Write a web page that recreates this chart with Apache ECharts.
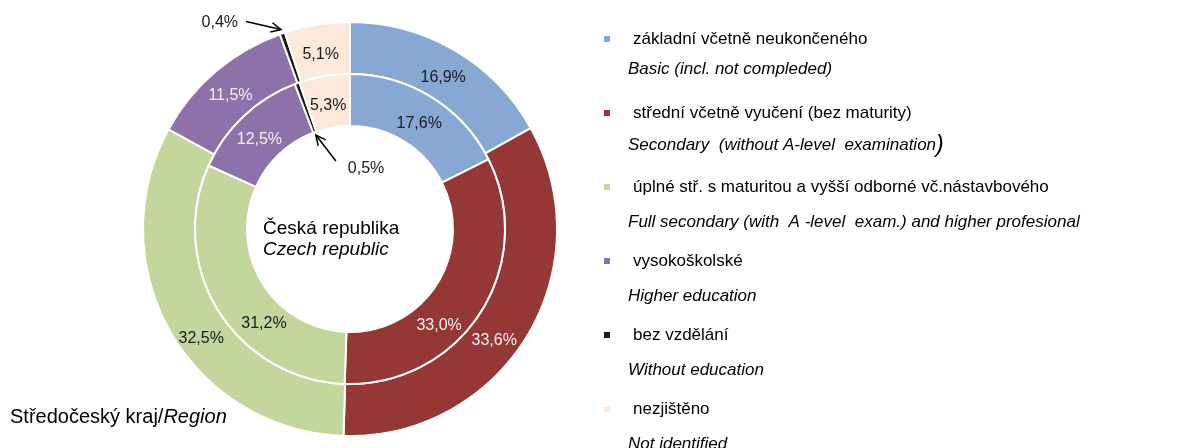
<!DOCTYPE html>
<html>
<head>
<meta charset="utf-8">
<script src="https://cdn.jsdelivr.net/npm/echarts@6/dist/echarts.min.js"></script>
<style>
  html, body { margin: 0; padding: 0; background: #fff; }
  #chart { width: 1200px; height: 448px; }
</style>
</head>
<body>
<div id="chart"></div>
<script>
// kategorie vzdělání (cz / en)
const categoriesCz = [
  'základní včetně neukončeného',
  'střední včetně vyučení (bez maturity)',
  'úplné stř. s maturitou a vyšší odborné vč.nástavbového',
  'vysokoškolské',
  'bez vzdělání',
  'nezjištěno'
];
const categoriesEn = [
  'Basic (incl. not compleded)',
  'Secondary  (without A-level  examination)',
  'Full secondary (with  A -level  exam.) and higher profesional',
  'Higher education',
  'Without education',
  'Not identified'
];
// vnější kruh = Středočeský kraj, vnitřní = Česká republika
const regionValues = [16.9, 33.6, 32.5, 11.5, 0.4, 5.1];
const czechValues = [17.6, 33.0, 31.2, 12.5, 0.5, 5.3];
const palette = ['#86a8d3', '#953735', '#c3d69b', '#8c72a8', '#1a1a1a', '#fde9d9'];

const FONT = '"Liberation Sans", Arial, sans-serif';
const CX = 350, CY = 229;
const OUTER = [155, 207];
const INNER = [103, 155];

const fmtPct = v => v.toFixed(1).replace('.', ',') + '%';

// úhel středu výseče ve stupních od 12 hodin po směru hodin
function midAngle(values, idx) {
  const total = values.reduce((a, b) => a + b, 0);
  let before = 0;
  for (let i = 0; i < idx; i++) before += values[i];
  return (before + values[idx] / 2) / total * 360;
}
function polar(r, deg) {
  const a = deg * Math.PI / 180;
  return [CX + r * Math.sin(a), CY - r * Math.cos(a)];
}
function arrow(tail, tip) {
  const ang = Math.atan2(tip[1] - tail[1], tip[0] - tail[0]);
  const len = 11, spread = 0.45;
  const h1 = [tip[0] - len * Math.cos(ang - spread), tip[1] - len * Math.sin(ang - spread)];
  const h2 = [tip[0] - len * Math.cos(ang + spread), tip[1] - len * Math.sin(ang + spread)];
  return [
    { type: 'polyline', silent: true, shape: { points: [tail, tip] }, style: { stroke: '#000', lineWidth: 1.5, fill: null } },
    { type: 'polyline', silent: true, shape: { points: [h1, tip, h2] }, style: { stroke: '#000', lineWidth: 1.5, fill: null } }
  ];
}

// šipky k malým výsečím (bez vzdělání)
const tinyIdx = 4;
const outerTip = polar(OUTER[1] + 4, midAngle(regionValues, tinyIdx));
const outerTail = [outerTip[0] - 35, outerTip[1] - 8];
const innerTip = polar(INNER[0] - 3, midAngle(czechValues, tinyIdx));
const innerTail = [innerTip[0] + 20, innerTip[1] + 26];

// ruční posun popisků jako v originále
const nudgeOuter = { 1: [-13, 16], 2: [11, 18] };
const nudgeInner = { 1: [-22, 25], 2: [26, 25] };
const nudgeDefault = [0, 7];

function buildData(values) {
  return values.map((v, i) => ({
    name: categoriesCz[i],
    value: v,
    label: { color: (i === 1 || i === 3) ? '#f2f2f2' : '#1a1a1a' }
  }));
}

function pieSeries(name, values, radius, nudge, tail, alignRight) {
  return {
    name: name,
    type: 'pie',
    center: [CX, CY],
    radius: radius,
    startAngle: 90,
    clockwise: true,
    avoidLabelOverlap: false,
    itemStyle: { borderColor: '#fff', borderWidth: 2 },
    label: {
      show: true,
      position: 'inside',
      fontFamily: FONT,
      fontSize: 16,
      formatter: p => fmtPct(p.value)
    },
    labelLine: { show: false },
    labelLayout: params => {
      if (params.dataIndex === tinyIdx) {
        return alignRight
          ? { x: tail[0] - 8, y: tail[1] + 1, align: 'right', verticalAlign: 'middle' }
          : { x: tail[0] + 12, y: tail[1] + 8, align: 'left', verticalAlign: 'middle' };
      }
      const d = nudge[params.dataIndex] || nudgeDefault;
      return { dx: d[0], dy: d[1] };
    },
    emphasis: { disabled: true },
    data: buildData(values)
  };
}

const chart = echarts.init(document.getElementById('chart'));
const option = {
  animation: false,
  color: palette,
  textStyle: { fontFamily: FONT },
  legend: [
    {
      orient: 'vertical',
      left: 602,
      top: 30,
      height: 440,
      padding: 0,
      icon: 'rect',
      itemWidth: 8,
      itemHeight: 8,
      itemGap: 56,
      selectedMode: false,
      data: categoriesCz,
      textStyle: { fontFamily: FONT, fontSize: 17, lineHeight: 18, color: '#000', padding: [0, 0, 0, 17] }
    },
    {
      orient: 'vertical',
      left: 616,
      top: 60,
      height: 440,
      padding: 0,
      icon: 'none',
      itemWidth: 7,
      itemHeight: 7,
      itemGap: 56,
      selectedMode: false,
      data: categoriesCz,
      formatter: name => {
        const en = categoriesEn[categoriesCz.indexOf(name)];
        return en.endsWith('examination)') ? en.slice(0, -1) + '{big|)}' : en;
      },
      textStyle: {
        fontFamily: FONT, fontSize: 17, fontStyle: 'italic', lineHeight: 18, color: '#000',
        rich: { big: { fontFamily: FONT, fontSize: 23, fontStyle: 'italic', lineHeight: 18, color: '#000' } }
      }
    }
  ],
  graphic: [
    {
      type: 'text',
      left: 263,
      top: 219,
      silent: true,
      style: {
        text: '{a|Česká republika}\n{b|Czech republic}',
        rich: {
          a: { fontFamily: FONT, fontSize: 19, lineHeight: 21, fill: '#000' },
          b: { fontFamily: FONT, fontSize: 19, lineHeight: 21, fontStyle: 'italic', fill: '#000' }
        }
      }
    },
    {
      type: 'text',
      left: 10,
      top: 407,
      silent: true,
      style: {
        text: '{a|Středočeský kraj/}{b|Region}',
        rich: {
          a: { fontFamily: FONT, fontSize: 20, lineHeight: 24, fill: '#000' },
          b: { fontFamily: FONT, fontSize: 20, lineHeight: 24, fontStyle: 'italic', fill: '#000' }
        }
      }
    },
    ...arrow(outerTail, outerTip),
    ...arrow(innerTail, innerTip)
  ],
  series: [
    pieSeries('Středočeský kraj', regionValues, OUTER, nudgeOuter, outerTail, true),
    pieSeries('Česká republika', czechValues, INNER, nudgeInner, innerTail, false)
  ]
};
chart.setOption(option);
</script>
</body>
</html>
